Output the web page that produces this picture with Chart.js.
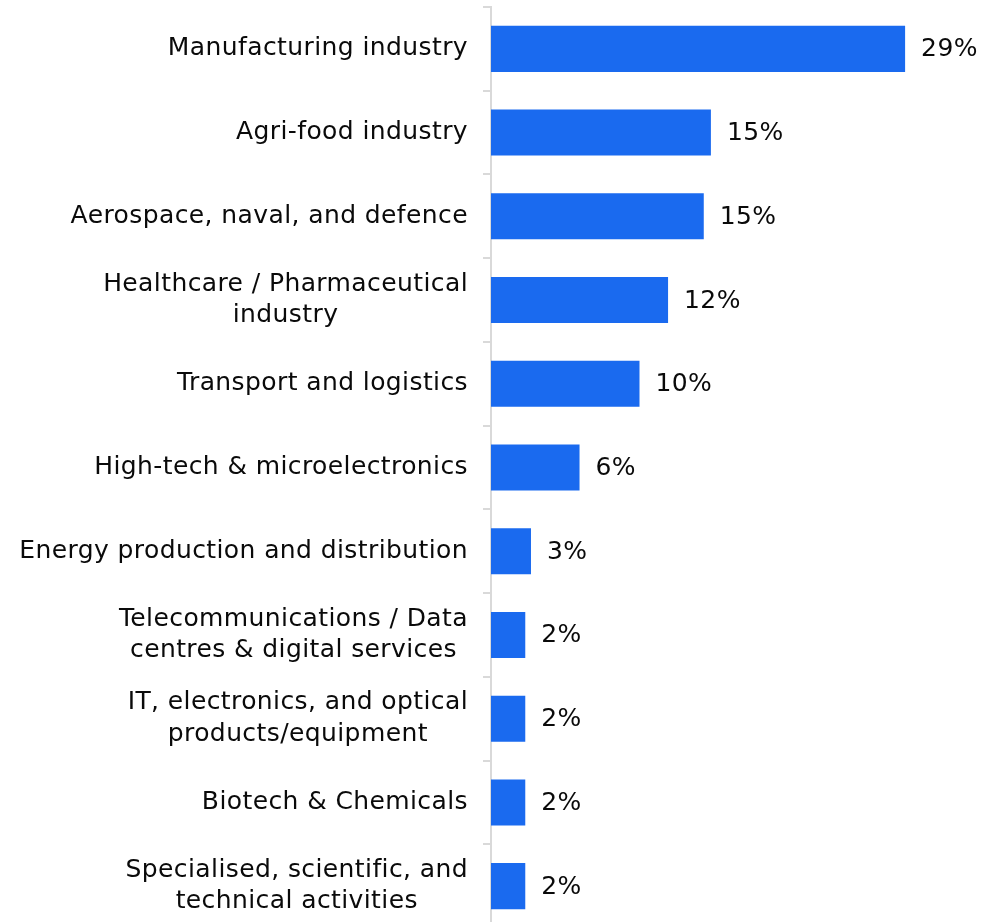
<!DOCTYPE html>
<html>
<head>
<meta charset="utf-8">
<script src="https://cdn.jsdelivr.net/npm/chart.js@4.4.1/dist/chart.umd.min.js"></script>
<style>
  html, body { margin: 0; padding: 0; background: #fff; overflow: hidden; }
  #wrap { width: 984px; height: 940px; }
</style>
</head>
<body>
<div id="wrap"><canvas id="chart-sectors"></canvas></div>
<script>
const sectors = [
  ["Manufacturing industry"],
  ["Agri-food industry"],
  ["Aerospace, naval, and defence"],
  ["Healthcare / Pharmaceutical", "industry"],
  ["Transport and logistics"],
  ["High-tech & microelectronics"],
  ["Energy production and distribution"],
  ["Telecommunications / Data", "centres & digital services"],
  ["IT, electronics, and optical", "products/equipment"],
  ["Biotech & Chemicals"],
  ["Specialised, scientific, and", "technical activities"],
];
const shares = [29, 15.4, 14.9, 12.4, 10.4, 6.2, 2.8, 2.4, 2.4, 2.4, 2.4];

const FONT = "DejaVu Sans";
const FONT_SIZE = 25;
const AXIS_WIDTH = 491;

function formatPercent(value) {
  return `${Math.round(value)}%`;
}

function setTextStyle(ctx) {
  ctx.font = `${FONT_SIZE}px "${FONT}"`;
  ctx.letterSpacing = "0.4px";
  ctx.fillStyle = "#0a0a0a";
  ctx.textBaseline = "middle";
}

// category names drawn by hand so that wrapped lines centre on each other
const sectorLabels = {
  id: "sectorLabels",
  afterDraw(chart) {
    const { ctx } = chart;
    const y = chart.scales.y;
    const right = y.right - 8 - 15;
    const lineHeight = 31.5;
    ctx.save();
    setTextStyle(ctx);
    sectors.forEach((lines, i) => {
      const cy = y.getPixelForValue(i);
      const widest = Math.max(...lines.map((l) => ctx.measureText(l).width));
      const top = cy - ((lines.length - 1) * lineHeight) / 2;
      lines.forEach((line, j) => {
        if (lines.length === 1) {
          ctx.textAlign = "right";
          ctx.fillText(line, right, top);
        } else {
          ctx.textAlign = "center";
          ctx.fillText(line, right - widest / 2, top + j * lineHeight);
        }
      });
    });
    ctx.restore();
  },
};

const valueLabels = {
  id: "valueLabels",
  afterDatasetsDraw(chart) {
    const { ctx } = chart;
    const meta = chart.getDatasetMeta(0);
    ctx.save();
    setTextStyle(ctx);
    ctx.textAlign = "left";
    meta.data.forEach((bar, i) => {
      ctx.fillText(formatPercent(shares[i]), bar.x + 16, bar.y + 1);
    });
    ctx.restore();
  },
};

new Chart(document.getElementById("chart-sectors"), {
  type: "bar",
  data: {
    labels: sectors.map((s) => s.join(" ")),
    datasets: [{
      data: shares,
      backgroundColor: "#1a6aef",
      borderWidth: 0,
      barPercentage: 0.55,
      categoryPercentage: 1,
    }],
  },
  options: {
    indexAxis: "y",
    responsive: true,
    maintainAspectRatio: false,
    animation: false,
    layout: { padding: { top: 7, bottom: 12, left: 0, right: 7.5 } },
    plugins: { legend: { display: false }, tooltip: { enabled: false } },
    scales: {
      x: { display: false, min: 0, max: 34 },
      y: {
        afterFit(scale) {
          scale.width = AXIS_WIDTH;
          scale.paddingTop = 0;
          scale.paddingBottom = 0;
        },
        border: { display: true, color: "#d9d9d9", width: 2 },
        grid: { drawOnChartArea: false, drawTicks: true, tickLength: 8, color: "#d9d9d9", lineWidth: 2 },
        ticks: { display: false },
      },
    },
  },
  plugins: [sectorLabels, valueLabels],
});
</script>
</body>
</html>
